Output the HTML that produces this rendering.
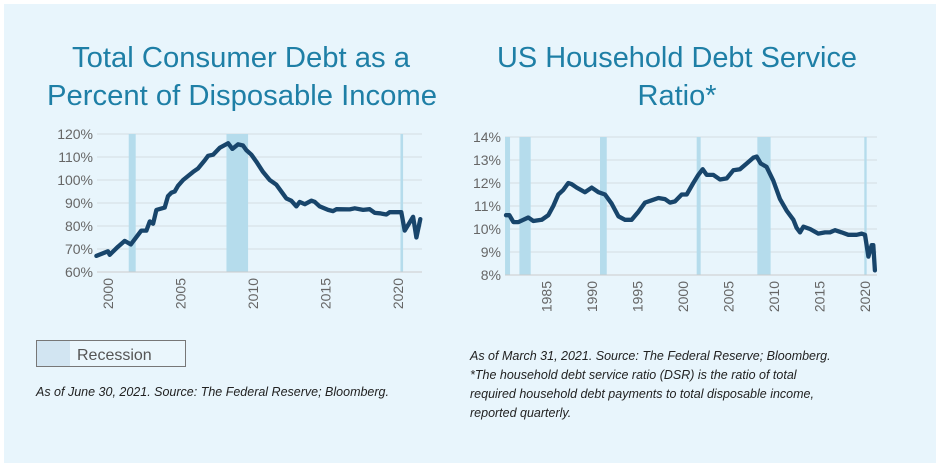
<!DOCTYPE html>
<html><head><meta charset="utf-8">
<style>
html,body{margin:0;padding:0;background:#fff;}
body{width:940px;height:467px;overflow:hidden;font-family:"Liberation Sans",sans-serif;}
svg text{font-family:"Liberation Sans",sans-serif;}
</style></head>
<body>
<svg id="root" width="940" height="467" viewBox="0 0 940 467">
  <rect x="4" y="4" width="932" height="459" fill="#e8f5fc"/>
  <g fill="#1e7fa6" font-size="29" text-anchor="middle">
    <text x="241" y="67" textLength="338" lengthAdjust="spacingAndGlyphs">Total Consumer Debt as a</text>
    <text x="242" y="105" textLength="390" lengthAdjust="spacingAndGlyphs">Percent of Disposable Income</text>
  </g>
  <g fill="#1e7fa6" font-size="29" text-anchor="middle">
    <text x="677" y="67" textLength="360" lengthAdjust="spacingAndGlyphs">US Household Debt Service</text>
    <text x="677" y="105">Ratio*</text>
  </g>
  <g id="left"></g>
  <g id="right"></g>
  <g>
    <rect x="36.5" y="340.5" width="149" height="26" fill="#eaf6fc" stroke="#777"/>
    <rect x="37" y="341" width="33" height="25" fill="#d2e5f2"/>
    <text x="77" y="360" font-size="16" fill="#555">Recession</text>
  </g>
  <text x="36" y="396" font-size="12.5" font-style="italic" fill="#222">As of June 30, 2021. Source: The Federal Reserve; Bloomberg.</text>
  <g font-size="12.5" font-style="italic" fill="#222">
    <text x="470" y="360">As of March 31, 2021. Source: The Federal Reserve; Bloomberg.</text>
    <text x="470" y="379">*The household debt service ratio (DSR) is the ratio of total</text>
    <text x="470" y="398">required household debt payments to total disposable income,</text>
    <text x="470" y="417">reported quarterly.</text>
  </g>
</svg>
<script>
// Left chart data
const leftYears = [1999.2,2000.0,2000.12,2000.69,2001.15,2001.57,2002.3,2002.65,2002.88,2003.11,2003.34,2003.91,2004.14,2004.37,2004.6,2004.83,2005.18,2005.87,2006.21,2006.67,2006.9,2007.25,2007.71,2008.28,2008.58,2008.97,2009.31,2009.54,2009.89,2010.23,2010.69,2011.15,2011.61,2012.07,2012.3,2012.64,2012.99,2013.22,2013.57,2014.03,2014.26,2014.6,2015.18,2015.52,2015.75,2016.67,2017.02,2017.59,2018.05,2018.4,2018.74,2019.2,2019.43,2020.23,2020.46,2021.04,2021.27,2021.54];
const leftValues = [67,69,67.5,71,73.5,72,78,78,82,81,87,88,93,94.5,95,97.5,100,103.5,105,108.5,110.5,111,114,116,113.5,115.5,115,113,111,108,103.5,100,98,94,92,91,88.5,90.5,89.5,91,90.5,88.5,87,86.5,87.3,87.2,87.7,87,87.3,85.7,85.5,85,86,86,78,84,75,83];
const leftRecStart = [2001.43,2008.17,2020.17];
const leftRecEnd = [2001.91,2009.66,2020.35];
const leftYTicks = [60,70,80,90,100,110,120];
const leftXTicks = [2000,2005,2010,2015,2020];

// Right chart data
const rightYears = [1980.53,1980.9,1981.34,1981.89,1982.43,1982.98,1983.53,1984.45,1985.18,1985.73,1986.28,1986.83,1987.38,1987.75,1988.3,1989.21,1989.95,1990.68,1991.41,1992.15,1992.88,1993.61,1994.34,1995.08,1995.81,1996.54,1997.28,1998.01,1998.56,1999.11,1999.84,2000.39,2001.12,2001.67,2002.15,2002.59,2003.32,2004.05,2004.79,2005.52,2006.25,2006.99,2007.72,2008.09,2008.53,2009.18,2009.92,2010.65,2011.38,2012.12,2012.48,2012.85,2013.22,2013.95,2014.86,2015.6,2016.15,2016.7,2017.43,2018.16,2019.08,2019.63,2020.0,2020.37,2020.73,2020.91,2021.09];
const rightValues = [10.6,10.6,10.3,10.3,10.4,10.5,10.35,10.4,10.6,11.0,11.5,11.7,12.0,11.95,11.8,11.6,11.8,11.6,11.5,11.1,10.55,10.4,10.4,10.75,11.15,11.25,11.35,11.3,11.15,11.2,11.5,11.5,12.0,12.35,12.6,12.35,12.35,12.15,12.2,12.55,12.6,12.85,13.1,13.15,12.85,12.7,12.1,11.3,10.8,10.4,10.05,9.85,10.1,10.0,9.8,9.85,9.85,9.95,9.85,9.75,9.75,9.8,9.75,8.8,9.3,9.3,8.2];
const rightRecStart = [1980.42,1982.0,1990.86,2001.49,2008.16,2019.92];
const rightRecEnd = [1980.97,1983.24,1991.6,2001.93,2009.62,2020.18];
const rightYTicks = [8,9,10,11,12,13,14];
const rightXTicks = [1985,1990,1995,2000,2005,2010,2015,2020];

const NS = 'http://www.w3.org/2000/svg';
function mk(tag, attrs, parent){
  const e = document.createElementNS(NS, tag);
  for (const k in attrs) e.setAttribute(k, attrs[k]);
  parent.appendChild(e);
  return e;
}
function drawChart(g, cfg){
  const xs = y => cfg.x0 + (y - cfg.yr0) * cfg.pxYr;
  const ys = v => cfg.yb - (v - cfg.vmin) / (cfg.vmax - cfg.vmin) * (cfg.yb - cfg.yt);
  cfg.yTicks.forEach(t => {
    const ln = mk('line', {x1: cfg.left, x2: cfg.right, y1: ys(t), y2: ys(t), stroke: '#d4dde2', 'stroke-width': 1}, g);
    
    
    const tx = mk('text', {x: cfg.left - 4, y: ys(t) + 5, 'text-anchor': 'end', 'font-size': 14, fill: '#666'}, g);
    tx.textContent = t + '%';
    
    
  });
  cfg.recS.forEach((s, i) => {
    const r = mk('rect', {x: xs(s), y: cfg.yt, width: Math.max(2, xs(cfg.recE[i]) - xs(s)), height: cfg.yb - cfg.yt, fill: '#b5dcec'}, g);
    
    
  });
  const ax = mk('line', {x1: cfg.left, x2: cfg.right, y1: cfg.yb, y2: cfg.yb, stroke: '#ccc', 'stroke-width': 1}, g);
  
  
  cfg.xTicks.forEach(t => {
    const x = xs(t);
    const tx = mk('text', {x: 0, y: 0, 'text-anchor': 'end', 'font-size': 14, fill: '#666', transform: `translate(${x + 5},${cfg.yb + 6}) rotate(-90)`}, g);
    tx.textContent = t;
    
    
  });
  const d = cfg.years.map((y, i) => (i ? 'L' : 'M') + xs(y).toFixed(1) + ' ' + ys(cfg.vals[i]).toFixed(1)).join(' ');
  const p = mk('path', {d: d, fill: 'none', stroke: '#18456b', 'stroke-width': 4.3, 'stroke-linejoin': 'round', 'stroke-linecap': 'round'}, g);
  
  
}
drawChart(document.getElementById('left'), {
  left: 97, right: 422, yt: 134, yb: 272, vmin: 60, vmax: 120,
  x0: 108, yr0: 2000, pxYr: 14.5,
  years: leftYears, vals: leftValues, recS: leftRecStart, recE: leftRecEnd,
  yTicks: leftYTicks, xTicks: leftXTicks
});
drawChart(document.getElementById('right'), {
  left: 505, right: 877, yt: 137, yb: 275, vmin: 8, vmax: 14,
  x0: 546.7, yr0: 1985, pxYr: 9.095,
  years: rightYears, vals: rightValues, recS: rightRecStart, recE: rightRecEnd,
  yTicks: rightYTicks, xTicks: rightXTicks
});
</script>
</body></html>
